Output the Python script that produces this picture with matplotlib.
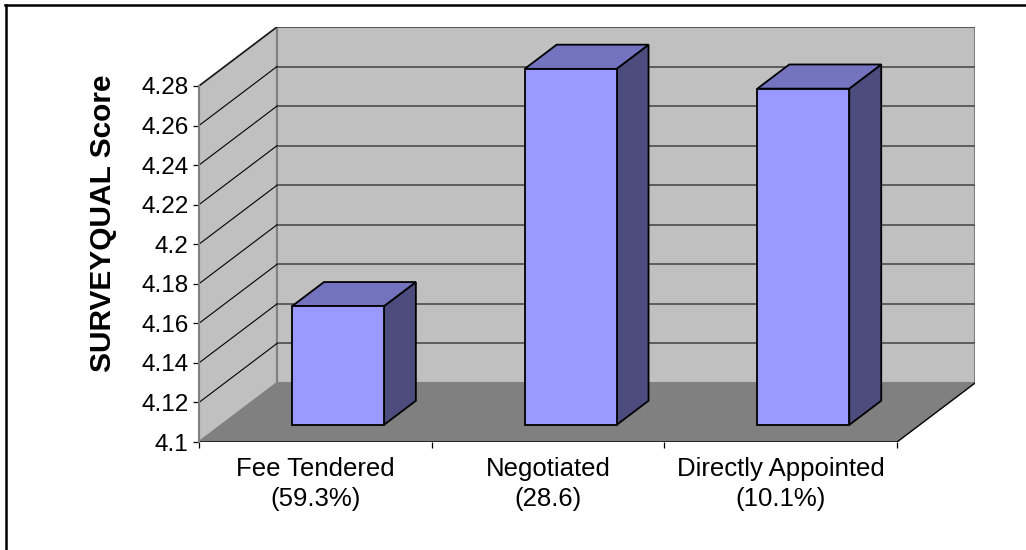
import matplotlib
matplotlib.use('Agg')
import matplotlib.pyplot as plt
from matplotlib.patches import Polygon
from matplotlib.lines import Line2D

categories = ['Fee Tendered', 'Negotiated', 'Directly Appointed']
shares = ['(59.3%)', '(28.6)', '(10.1%)']
scores = [4.16, 4.28, 4.27]
yticks = [4.1, 4.12, 4.14, 4.16, 4.18, 4.2, 4.22, 4.24, 4.26, 4.28]

ymin, ymax = yticks[0], yticks[-1]
n = len(categories)

# oblique depth offset of the box (x in category units, y in score units)
DX, DY = 0.335, 0.0298
# bar footprint: width in category units, front/back depth fractions
BW, F0, F1 = 0.395, 0.29, 0.70

WALL = '#C0C0C0'
FLOOR = '#808080'
FRONT, TOP, SIDE = '#9999FF', '#7373BF', '#4C4C7E'

plt.rcParams['font.family'] = 'Liberation Sans'
fig = plt.figure(figsize=(10.26, 5.5), dpi=100)
ax = fig.add_axes([199 / 1026, 108 / 550, 776 / 1026, 415 / 550])
ax.set_xlim(0, n + DX)
ax.set_ylim(ymin, ymax + DY)
ax.patch.set_visible(False)


def face(pts, fc, ec='none', lw=0, z=1):
    ax.add_patch(Polygon(pts, closed=True, facecolor=fc, edgecolor=ec,
                         linewidth=lw, zorder=z, joinstyle='miter'))


# walls and floor
face([(DX, ymin + DY), (n + DX, ymin + DY), (n + DX, ymax + DY), (DX, ymax + DY)],
     WALL, '#808080', 1.5, 1)
face([(0, ymin), (DX, ymin + DY), (DX, ymax + DY), (0, ymax)], WALL, '#808080', 1.5, 1)
face([(0, ymin), (n, ymin), (n + DX, ymin + DY), (DX, ymin + DY)], FLOOR, z=3)
ax.plot([0, n, n + DX], [ymin, ymin, ymin + DY], color='black', lw=1, zorder=3)

# gridlines on back wall and side wall
for v in yticks[1:]:
    ax.plot([DX, n + DX], [v + DY, v + DY], color='#555555', lw=1.3, zorder=2)
    ax.plot([0, DX], [v, v + DY], color='black', lw=0.8, zorder=2)

# 3D bars
for i, v in enumerate(scores):
    xl = i + 0.5 - BW / 2
    xr = i + 0.5 + BW / 2
    b0, b1 = ymin + F0 * DY, ymin + F1 * DY
    t0, t1 = v + F0 * DY, v + F1 * DY
    face([(xr + F0 * DX, b0), (xr + F1 * DX, b1), (xr + F1 * DX, t1), (xr + F0 * DX, t0)],
         SIDE, 'black', 1.3, 5)
    face([(xl + F0 * DX, t0), (xr + F0 * DX, t0), (xr + F1 * DX, t1), (xl + F1 * DX, t1)],
         TOP, 'black', 1.3, 5)
    face([(xl + F0 * DX, b0), (xr + F0 * DX, b0), (xr + F0 * DX, t0), (xl + F0 * DX, t0)],
         FRONT, 'black', 1.3, 6)

# axes
for s in ['top', 'right', 'bottom']:
    ax.spines[s].set_visible(False)
ax.spines['left'].set_bounds(ymin, ymax)
ax.spines['left'].set_color('#808080')
ax.spines['left'].set_linewidth(1.5)
ax.spines['left'].set_zorder(4)

ax.set_yticks(yticks, [f'{v:g}' for v in yticks])
ax.tick_params(axis='y', length=4.5, width=0.9, color='black', labelsize=17.5, pad=3)

ax.set_xticks(range(n + 1), [''] * (n + 1))
ax.tick_params(axis='x', which='major', length=4.5, width=0.9, color='black')
ax.set_xticks([i + 0.5 for i in range(n)],
              [f'{c}\n{s}' for c, s in zip(categories, shares)], minor=True)
ax.tick_params(axis='x', which='minor', length=0, labelsize=18.5, pad=11)
for lbl in ax.get_xticklabels(minor=True):
    lbl.set_linespacing(1.3)

ax.set_ylabel('SURVEYQUAL Score', fontsize=21.5, fontweight='bold')
ax.yaxis.label.set_va('center')
ax.yaxis.set_label_coords(-0.124, 0.528)

# chart area frame (top and left edges)
fig.add_artist(Line2D([5 / 1026, 1], [1 - 5 / 550, 1 - 5 / 550], color='black', lw=1.8))
fig.add_artist(Line2D([6 / 1026, 6 / 1026], [0, 1 - 5 / 550], color='black', lw=1.8))

fig.savefig('out.png', dpi=100)
